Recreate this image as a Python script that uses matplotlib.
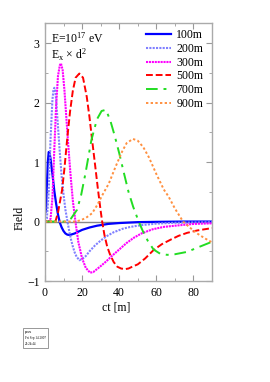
import matplotlib
matplotlib.use("Agg")
import matplotlib.pyplot as plt

plt.rcParams['font.family'] = ['Liberation Serif', 'DejaVu Serif']
plt.rcParams['mathtext.fontset'] = 'custom'
plt.rcParams['mathtext.rm'] = 'Liberation Serif'
plt.rcParams['mathtext.it'] = 'Liberation Serif:italic'

# ---- data ----
labels = ["100m", "200m", "300m", "500m", "700m", "900m"]

x100 = [0.5, 1, 1.5, 2, 2.5, 3, 4, 5, 6, 7, 8, 9, 10, 11, 12, 13, 14, 16, 18, 20, 24, 28, 34, 40, 50, 60, 75, 90]
y100 = [0.17, 0.6, 1.0, 1.17, 1.15, 1.05, 0.8, 0.52, 0.3, 0.12, -0.02, -0.1, -0.16, -0.2, -0.22, -0.225, -0.22,
        -0.2, -0.17, -0.14, -0.1, -0.07, -0.04, -0.025, -0.01, -0.005, 0, 0]

x200 = [0, 1, 2, 3, 4, 4.5, 5, 5.5, 6, 7, 8, 9, 10, 11, 12, 13, 14, 15, 16, 17, 18.5, 20, 22, 24, 27, 30, 33, 37,
        42, 46, 52, 60, 70, 90]
y200 = [0, 0.05, 0.5, 1.4, 2.05, 2.2, 2.25, 2.2, 2.05, 1.6, 1.15, 0.75, 0.45, 0.2, 0.02, -0.15, -0.3, -0.42, -0.52,
        -0.59, -0.65, -0.63, -0.58, -0.5, -0.4, -0.32, -0.25, -0.18, -0.12, -0.09, -0.06, -0.035, -0.02, -0.01]

x300 = [0, 2, 3, 4, 5, 6, 7, 8, 8.6, 9.5, 10.5, 11.5, 12.5, 13.7, 15, 16.4, 18, 20, 22, 24.3, 26, 28, 30, 33, 36,
        40, 44, 48, 52, 58, 64, 70, 80, 90]
y300 = [0, 0, 0.05, 0.4, 1.2, 1.95, 2.45, 2.63, 2.66, 2.55, 2.2, 1.75, 1.3, 0.81, 0.35, 0, -0.35, -0.62, -0.78,
        -0.86, -0.85, -0.8, -0.75, -0.67, -0.58, -0.47, -0.36, -0.27, -0.2, -0.13, -0.09, -0.07, -0.04, -0.03]

x500 = [0, 4, 5.6, 7, 9.2, 10.5, 11.9, 13.5, 15, 16.5, 18.5, 20.5, 22.5, 24, 25.4, 27, 28.5, 30, 30.8, 32, 33.5,
        35, 37, 39, 41, 43.2, 45, 47, 50, 54, 58.5, 63, 68, 72, 76.6, 82, 90]
y500 = [0, 0, 0, 0.15, 0.53, 0.9, 1.37, 1.85, 2.2, 2.42, 2.49, 2.42, 2.1, 1.75, 1.37, 0.95, 0.55, 0.18, 0, -0.22,
        -0.42, -0.55, -0.68, -0.76, -0.79, -0.8, -0.79, -0.76, -0.72, -0.62, -0.48, -0.38, -0.3, -0.24, -0.19,
        -0.15, -0.11]

x700 = [0, 10, 11.9, 14, 17.3, 19.5, 21.8, 25, 28, 30.5, 32.8, 35.1, 37.5, 40, 42.5, 45, 47.5, 50.5, 53, 55.5,
        58.5, 62, 65.8, 70, 76.6, 82, 86, 90]
y700 = [0, 0, 0, 0.05, 0.2, 0.45, 0.81, 1.37, 1.72, 1.86, 1.88, 1.71, 1.45, 1.15, 0.82, 0.5, 0.25, 0, -0.18,
        -0.33, -0.47, -0.54, -0.56, -0.55, -0.51, -0.44, -0.39, -0.34]

x900 = [0, 14, 16.4, 19, 22, 25.4, 28, 31, 34.4, 38, 41.6, 44, 47.4, 50, 53, 56, 60, 64, 66.6, 70, 74.4, 78, 82,
        86, 90]
y900 = [0, 0, 0, 0.02, 0.06, 0.14, 0.27, 0.45, 0.64, 0.92, 1.18, 1.32, 1.39, 1.36, 1.25, 1.08, 0.8, 0.54, 0.42,
        0.22, 0, -0.1, -0.2, -0.28, -0.35]

xs = [x100, x200, x300, x500, x700, x900]
ys = [y100, y200, y300, y500, y700, y900]

colors = ['#0000ff', '#8080ff', '#ff00ff', '#ff0000', '#22dd22', '#ff9040']
styles = ['-', (0, (1, 0.6)), (0, (1, 0.4)), (0, (3.5, 1.5)), (0, (6, 3, 1.5, 3)), (0, (1.2, 1.2))]
widths = [1.6, 1.5, 1.5, 1.4, 1.4, 1.4]

fig = plt.figure(figsize=(2.7, 3.82), dpi=100)
ax = fig.add_axes([45 / 270, 1 - 281 / 382, (212 - 45) / 270, (281 - 23) / 382])

ax.axhline(0, color='#888888', lw=1.0, zorder=1)
for x, y, c, s, w, l in zip(xs, ys, colors, styles, widths, labels):
    ax.plot(x, y, color=c, ls=s, lw=w, label=l, zorder=2)

ax.set_xlim(0, 90)
ax.set_ylim(-1, 3.34)
ax.set_xticks([0, 20, 40, 60, 80])
ax.set_xticks([10, 30, 50, 70, 90], minor=True)
ax.set_yticks([-1, 0, 1, 2, 3])
ax.set_yticks([-0.5, 0.5, 1.5, 2.5], minor=True)
ax.tick_params(which='both', direction='in', top=True, right=True, color='#999999',
               labelsize=8.5, pad=4)
ax.tick_params(which='major', length=4)
ax.tick_params(which='minor', length=2.5)
for sp in ax.spines.values():
    sp.set_color('#aaaaaa')
    sp.set_linewidth(1.0)

ax.text(0.035, 0.925, r'E=10$^{17}$ eV', transform=ax.transAxes, fontsize=8.5, va='baseline')
ax.text(0.035, 0.86, r'E$_{\rm x}$ $\times$ d$^{2}$', transform=ax.transAxes, fontsize=8.5, va='baseline')

leg = ax.legend(loc='upper right', frameon=False, fontsize=8.5, handlelength=2.1,
                handletextpad=0.45, labelspacing=0.15, borderaxespad=0.0, borderpad=0.3,
                bbox_to_anchor=(0.97, 0.99))

fig.text(20 / 270, 1 - 218 / 382, 'Field', rotation=90, fontsize=8.5, ha='center', va='center')
fig.text(116 / 270, 1 - 307 / 382, 'ct [m]', fontsize=8.5, ha='center', va='center')

fig.text(25 / 270, 1 - 338 / 382, 'pawu\nFri Sep 14 2007\n22:24:44', fontsize=2.3, ha='left', va='center',
         linespacing=1.6,
         bbox=dict(boxstyle='square,pad=0.6', fc='white', ec='#888888', lw=0.6))

fig.savefig('out.png', dpi=100)
